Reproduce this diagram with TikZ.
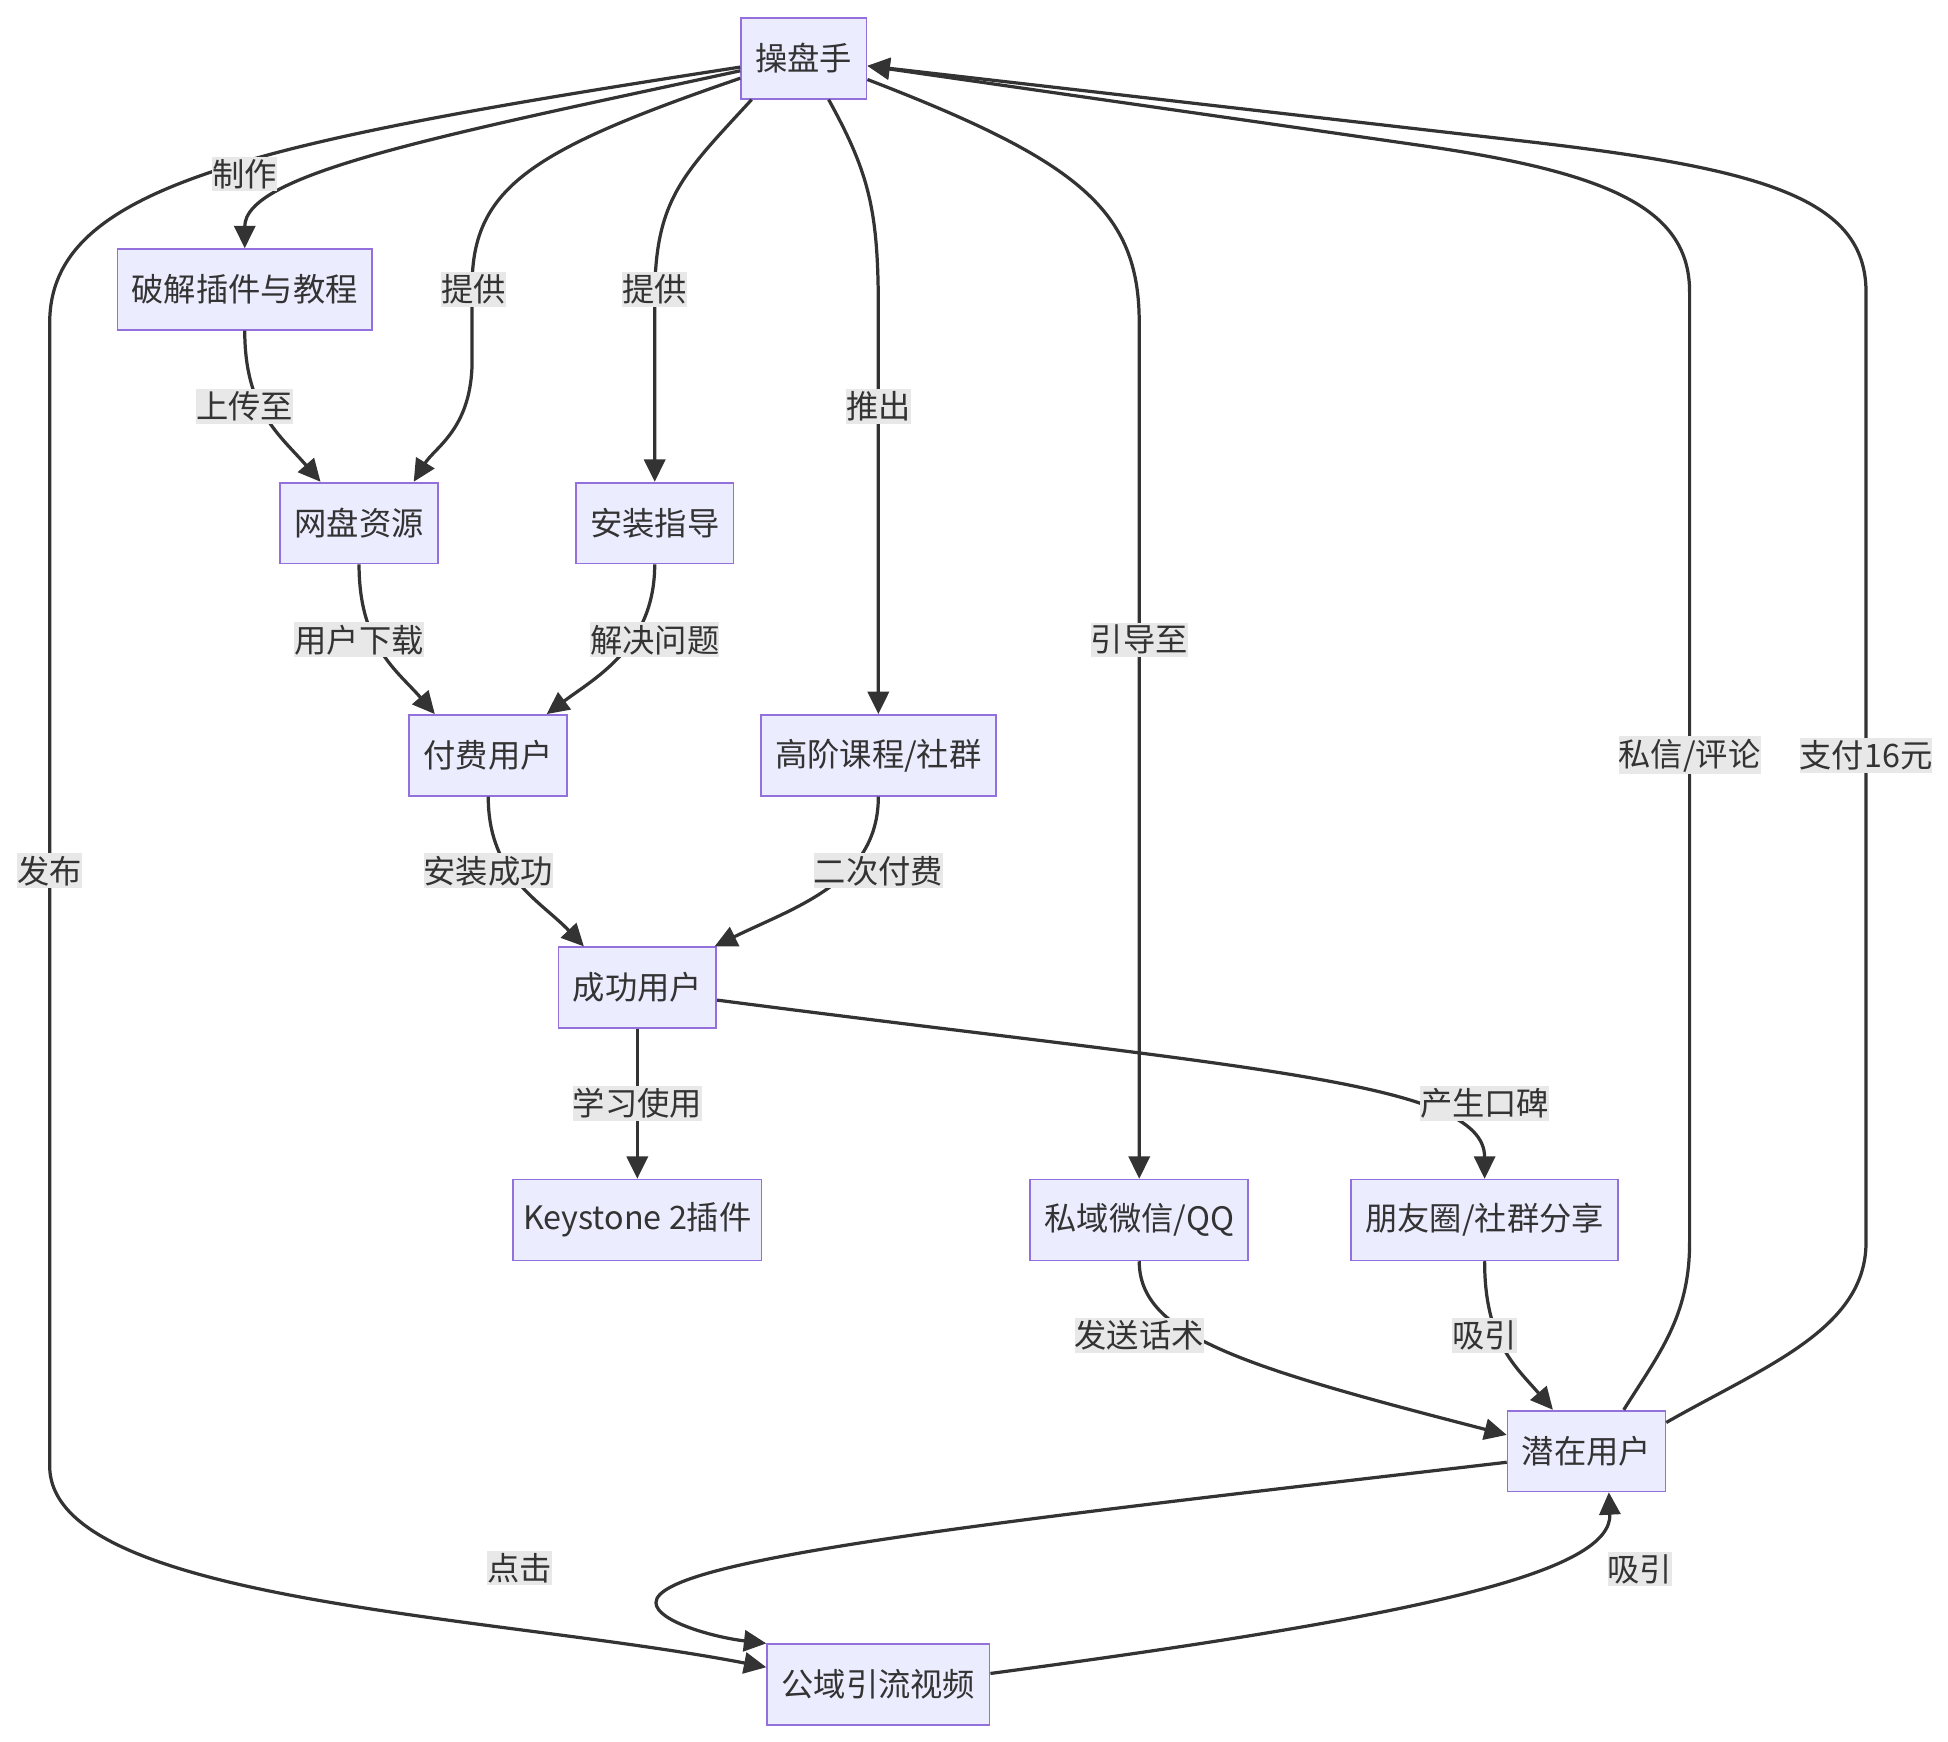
\documentclass[tikz,border=0pt]{standalone}
\usepackage{fontspec}
\setmainfont{Noto Sans CJK SC}
\usetikzlibrary{arrows.meta}
\definecolor{boxfill}{HTML}{ECECFF}
\definecolor{boxline}{HTML}{9370DB}
\definecolor{edgecol}{HTML}{333333}
\definecolor{lblfill}{HTML}{E8E8E8}
\begin{document}
\begin{tikzpicture}[x=0.5pt,y=-0.5pt,
	box/.style={draw=boxline,fill=boxfill,line width=0.7pt,minimum height=32.5pt,inner xsep=5.75pt,text=edgecol,font=\fontsize{13}{15}\selectfont},
	lbl/.style={fill=lblfill,inner xsep=0pt,inner ysep=1pt,text=edgecol,font=\fontsize{13}{15}\selectfont},
	flow/.style={draw=edgecol,line width=1.3pt,-{Triangle[length=9pt,width=8.5pt]}}]
			\useasboundingbox (0,0) rectangle (1568,1402);

			% Knoten
			\node[box] (op) at (647,47) {操盘手};
			\node[box] (crack) at (197,233) {破解插件与教程};
			\node[box] (wp) at (289,421) {网盘资源};
			\node[box] (guide) at (527,421) {安装指导};
			\node[box] (paid) at (393,608) {付费用户};
			\node[box] (adv) at (707,608) {高阶课程/社群};
			\node[box] (succ) at (513,795) {成功用户};
			\node[box,inner xsep=4pt] (key) at (513,982) {Keystone 2插件};
			\node[box] (priv) at (917,982) {私域微信/QQ};
			\node[box] (share) at (1195,982) {朋友圈/社群分享};
			\node[box] (pot) at (1277,1168) {潜在用户};
			\node[box] (pub) at (707,1356) {公域引流视频};

			% Kanten vom Operator
			\draw[flow] ([yshift=-5pt]op.west) .. controls (350,110) and (197,140) .. (crack.north);
			\draw[flow] ([yshift=-8pt]op.west) .. controls (430,120) and (380,150) .. (380,230) -- (380,290) .. controls (380,345) and (350,360) .. ([xshift=22pt]wp.north);
			\draw[flow] ([xshift=-21pt]op.south) .. controls (550,140) and (527,160) .. (527,240) -- (guide.north);
			\draw[flow] ([xshift=10pt]op.south) .. controls (700,140) and (707,170) .. (707,250) -- (adv.north);
			\draw[flow] ([yshift=-8.5pt]op.east) .. controls (870,130) and (917,170) .. (917,260) -- (priv.north);
			\draw[flow] ([yshift=-3.5pt]op.west) .. controls (200,115) and (40,150) .. (40,260) -- (40,1180) .. controls (40,1290) and (400,1300) .. ([yshift=7pt]pub.west);

			% Kanten in der Mitte
			\draw[flow] (crack.south) .. controls (197,330) and (225,350) .. ([xshift=-15.5pt]wp.north);
			\draw[flow] (wp.south) .. controls (289,520) and (320,540) .. ([xshift=-21.5pt]paid.north);
			\draw[flow] (guide.south) .. controls (527,520) and (480,545) .. ([xshift=23.5pt]paid.north);
			\draw[flow] (paid.south) .. controls (393,705) and (435,725) .. ([xshift=-21.5pt]succ.north);
			\draw[flow] (adv.south) .. controls (707,710) and (640,730) .. ([xshift=-1pt]succ.north east);
			\draw[flow] (succ) -- (key);
			\draw[flow] ([yshift=-5pt]succ.east) .. controls (1000,860) and (1195,870) .. (share.north);
			\draw[flow] (priv.south) .. controls (917,1075) and (1000,1100) .. ([yshift=6.5pt]pot.west);
			\draw[flow] (share.south) .. controls (1195,1080) and (1220,1100) .. ([xshift=-13.5pt]pot.north);

			% Rueckkanten
			\draw[flow] ([xshift=15pt]pot.north) .. controls (1335,1090) and (1360,1060) .. (1360,1000) -- (1360,235) .. controls (1360,170) and (1300,140) .. (1150,118) -- ([yshift=-3pt]op.east);
			\draw[flow] ([yshift=11.5pt]pot.east) .. controls (1420,1100) and (1502,1070) .. (1502,1000) -- (1502,235) .. controls (1502,160) and (1420,136) .. (1230,114) -- ([yshift=-3pt]op.east);
			\draw[flow] ([yshift=-4.5pt]pot.west) .. controls (800,1225) and (528,1255) .. (528,1290) .. controls (528,1305) and (575,1318) .. (pub.north west);
			\draw[flow] ([yshift=4.5pt]pub.east) .. controls (1150,1300) and (1298,1265) .. ([xshift=9pt]pot.south);

			% Beschriftungen
			\node[lbl] (l1) at (197,140) {制作};
			\node[lbl] (l2) at (381,233) {提供};
			\node[lbl] (l3) at (527,233) {提供};
			\node[lbl] (l4) at (707,327) {推出};
			\node[lbl] (l5) at (917,515) {引导至};
			\node[lbl] (l6) at (40,701) {发布};
			\node[lbl] (l7) at (197,327) {上传至};
			\node[lbl] (l8) at (289,515) {用户下载};
			\node[lbl] (l9) at (527,515) {解决问题};
			\node[lbl] (l10) at (393,701) {安装成功};
			\node[lbl] (l11) at (707,701) {二次付费};
			\node[lbl] (l12) at (513,888) {学习使用};
			\node[lbl] (l13) at (1195,888) {产生口碑};
			\node[lbl] (l14) at (917,1075) {发送话术};
			\node[lbl] (l15) at (1195,1075) {吸引};
			\node[lbl] (l16) at (1360,608) {私信/评论};
			\node[lbl] (l17) at (1502,608) {支付16元};
			\node[lbl] (l18) at (418,1262) {点击};
			\node[lbl] (l19) at (1320,1263) {吸引};

		\end{tikzpicture}
\end{document}
